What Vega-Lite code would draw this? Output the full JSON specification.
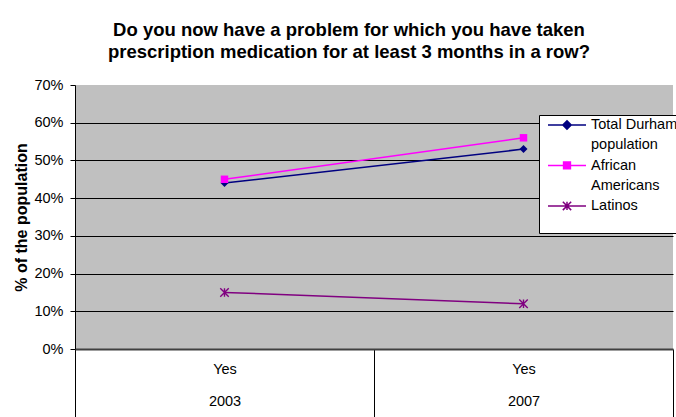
{
  "$schema": "https://vega.github.io/schema/vega-lite/v6.json",
  "width": 598,
  "height": 264,
  "autosize": {"type": "none"},
  "padding": {"left": 75, "top": 85, "right": 3, "bottom": 68},
  "background": "white",
  "title": {
    "text": ["Do you now have a problem for which you have taken", "prescription medication for at least 3 months in a row?"],
    "font": "Liberation Sans",
    "fontSize": 18.5,
    "fontWeight": "bold",
    "color": "black",
    "lineHeight": 22,
    "anchor": "middle",
    "frame": "group",
    "dx": -25,
    "offset": 16
  },
  "config": {
    "view": {"fill": "#C0C0C0", "stroke": null}
  },
  "data": {
    "values": [
      {"series": "Total Durham population", "year": "2003", "share": 0.44},
      {"series": "Total Durham population", "year": "2007", "share": 0.53},
      {"series": "African Americans", "year": "2003", "share": 0.45},
      {"series": "African Americans", "year": "2007", "share": 0.56},
      {"series": "Latinos", "year": "2003", "share": 0.15},
      {"series": "Latinos", "year": "2007", "share": 0.12}
    ]
  },
  "encoding": {
    "x": {
      "field": "year",
      "type": "nominal",
      "bandPosition": 0.5,
      "scale": {"type": "band", "paddingInner": 0, "paddingOuter": 0},
      "axis": {
        "title": null,
        "labelExpr": "datum.label ? ['Yes', datum.label] : ''",
        "labelAngle": 0,
        "labelFont": "Liberation Sans",
        "labelFontSize": 14.5,
        "labelColor": "black",
        "labelLineHeight": 32,
        "labelPadding": -57,
        "tickBand": "extent",
        "tickSize": 70,
        "tickColor": "black",
        "tickWidth": 1,
        "domainColor": "#404040",
        "domainWidth": 2,
        "grid": false
      }
    },
    "y": {
      "field": "share",
      "type": "quantitative",
      "scale": {"domain": [0, 0.7], "nice": false},
      "axis": {
        "title": "% of the population",
        "titleFont": "Liberation Sans",
        "titleFontSize": 16,
        "titleFontWeight": "bold",
        "titleColor": "black",
        "titlePadding": 4,
        "format": ".0%",
        "values": [0, 0.1, 0.2, 0.3, 0.4, 0.5, 0.6, 0.7],
        "labelFont": "Liberation Sans",
        "labelFontSize": 14.5,
        "labelColor": "black",
        "labelPadding": 7,
        "labelFlush": false,
        "tickSize": 5,
        "tickColor": "black",
        "domainColor": "black",
        "gridColor": {"condition": {"test": "datum.value <= 0 || datum.value >= 0.7", "value": "transparent"}, "value": "black"},
        "gridOpacity": 1,
        "gridWidth": 1
      }
    },
    "color": {
      "field": "series",
      "type": "nominal",
      "scale": {
        "domain": ["Total Durham population", "African Americans", "Latinos"],
        "range": ["#000080", "#FF00FF", "#800080"]
      },
      "legend": {
        "title": null,
        "orient": "none",
        "legendX": 464,
        "legendY": 30,
        "direction": "vertical",
        "fillColor": "white",
        "strokeColor": "black",
        "padding": 0,
        "symbolSize": 1444,
        "symbolStrokeWidth": 1.5,
        "symbolOffset": 8,
        "labelOffset": 4,
        "labelFont": "Liberation Sans",
        "labelFontSize": 14.5,
        "labelColor": "black",
        "labelLimit": 300,
        "rowPadding": 3.5,
        "labelExpr": "datum.label === 'Latinos' ? ['Latinos', ''] : datum.label === 'African Americans' ? ['African', 'Americans'] : ['Total Durham', 'population']",
        "encode": {
          "symbols": {
            "update": {
              "shape": {"signal": "datum.value === 'Latinos' ? 'M-1,-0.53H1M-0.22,-0.75L0.22,-0.31M-0.22,-0.31L0.22,-0.75M0,-0.75V-0.31' : datum.value === 'African Americans' ? 'M-1,-0.53H1M-0.18,-0.71H0.18V-0.35H-0.18Z' : 'M-1,-0.53H1M0,-0.75L0.22,-0.53L0,-0.31L-0.22,-0.53Z'"},
              "fill": {"signal": "datum.value === 'Latinos' ? 'transparent' : datum.value === 'African Americans' ? '#FF00FF' : '#000080'"},
              "stroke": {"signal": "datum.value === 'Latinos' ? '#800080' : datum.value === 'African Americans' ? '#FF00FF' : '#000080'"},
              "opacity": {"value": 1}
            }
          },
          "labels": {
            "update": {"lineHeight": {"value": 20}, "dy": {"value": -10}}
          }
        }
      }
    }
  },
  "layer": [
    {"mark": {"type": "line", "strokeWidth": 1.5}},
    {
      "transform": [{"filter": "datum.series === 'Total Durham population'"}],
      "mark": {"type": "point", "shape": "diamond", "filled": true, "size": 64, "opacity": 1}
    },
    {
      "transform": [{"filter": "datum.series === 'African Americans'"}],
      "mark": {"type": "point", "shape": "square", "filled": true, "size": 56, "opacity": 1}
    },
    {
      "transform": [{"filter": "datum.series === 'Latinos'"}],
      "mark": {"type": "point", "shape": "M-1,-1L1,1M-1,1L1,-1M0,-1L0,1", "filled": false, "size": 72, "strokeWidth": 1.4, "opacity": 1}
    }
  ]
}
